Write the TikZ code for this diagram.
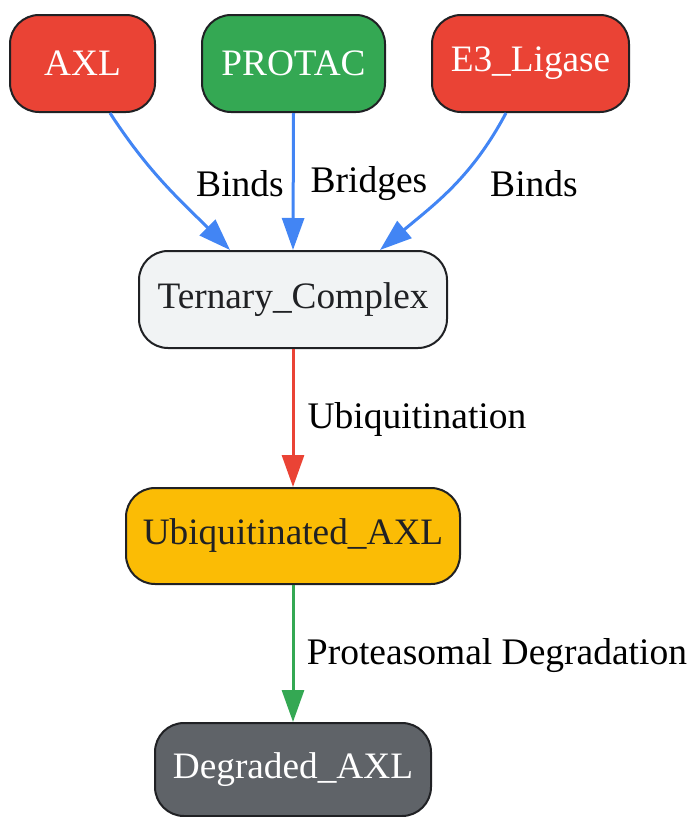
\documentclass[tikz,border=0pt]{standalone}
\usepackage{fontspec}
\setmainfont{Liberation Serif}
\usetikzlibrary{arrows.meta,calc}
\definecolor{gred}{HTML}{EA4335}
\definecolor{ggreen}{HTML}{34A853}
\definecolor{gyellow}{HTML}{FBBC05}
\definecolor{ggrey}{HTML}{5F6368}
\definecolor{glight}{HTML}{F1F3F4}
\definecolor{gblue}{HTML}{4285F4}
\definecolor{gdark}{HTML}{202124}
\begin{document}
\begin{tikzpicture}[x=1pt,y=-1pt,
  box/.style={draw=gdark,line width=2pt,rounded corners=29pt,minimum height=97pt,inner sep=0pt,font=\fontsize{37.3}{44}\selectfont},
  lbl/.style={font=\fontsize{37.5}{44}\selectfont,text=black,inner sep=0pt},
  conn/.style={line width=3pt,-{Triangle[length=32pt,width=22pt]}}]
\useasboundingbox (0,0) rectangle (690,817);
\node[box,fill=gred,text=white,minimum width=145pt] (AXL) at (82.5,63.5) {AXL};
\node[box,fill=ggreen,text=white,minimum width=183pt] (PROTAC) at (293.5,63.5) {PROTAC};
\node[box,fill=gred,text=white,minimum width=197pt] (E3) at (530.5,63.5) {E3\_Ligase};
\node[box,fill=glight,text=gdark,minimum width=308pt] (TC) at (293,299.5) {Ternary\_Complex};
\node[box,fill=gyellow,text=gdark,minimum width=334pt,minimum height=96pt] (UB) at (293,536) {Ubiquitinated\_AXL};
\node[box,fill=ggrey,text=white,minimum width=276pt,minimum height=93pt] (DG) at (293,769.5) {Degraded\_AXL};
\draw[conn,gblue] ([xshift=27.5pt]AXL.south) to[out=-57,in=135] ([xshift=-63pt]TC.north);
\draw[conn,gblue] (PROTAC.south) -- (TC.north);
\draw[conn,gblue] ([xshift=-24.5pt]E3.south) to[out=-118,in=40] ([xshift=87pt]TC.north);
\draw[conn,gred] (TC.south) -- (UB.north);
\draw[conn,ggreen] (UB.south) -- (DG.north);
\node[lbl] (l1) at (240,184) {Binds};
\node[lbl] (l2) at (369,184) {Bridges};
\node[lbl] (l3) at (534,184) {Binds};
\node[lbl] (l4) at (417,419) {Ubiquitination};
\node[lbl] (l5) at (497,656) {Proteasomal Degradation};
\end{tikzpicture}
\end{document}
